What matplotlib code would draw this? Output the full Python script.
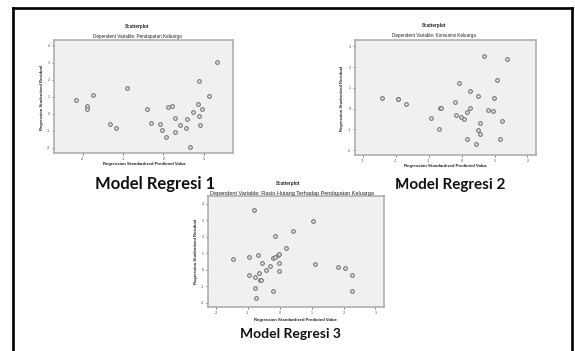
import matplotlib
matplotlib.use("Agg")
import matplotlib.pyplot as plt
from matplotlib.lines import Line2D

plt.rcParams['axes.unicode_minus'] = False
plt.rcParams['font.family'] = ['Liberation Sans', 'DejaVu Sans']

# ---------------- data ----------------
# Model Regresi 1 : Dependent Variable: Pendapatan Keluarga
m1_pred = [-2.17, -1.89, -1.89, -1.75, -1.33, -1.18, -0.90, -0.40, -0.32, -0.08,
           -0.03, 0.06, 0.12, 0.22, 0.29, 0.28, 0.40, 0.55, 0.59, 0.66,
           0.74, 0.85, 0.88, 0.88, 0.92, 0.95, 1.14, 1.32]
m1_resid = [0.78, 0.43, 0.29, 1.10, -0.59, -0.84, 1.51, 0.25, -0.57, -0.59,
            -0.98, -1.37, 0.41, 0.43, -0.24, -1.08, -0.65, -0.86, -0.31, -1.94,
            0.10, 0.55, 1.92, -0.12, -0.67, 0.27, 1.02, 3.02]

# Model Regresi 2 : Dependent Variable: Konsumsi Keluarga
m2_pred = [-2.43, -1.94, -1.94, -1.68, -0.94, -0.69, -0.66, -0.62, -0.20, -0.17,
           -0.09, -0.03, 0.07, 0.15, 0.15, 0.24, 0.24, 0.43, 0.50, 0.50,
           0.57, 0.57, 0.67, 0.81, 0.95, 0.99, 1.06, 1.18, 1.24, 1.39]
m2_resid = [0.50, 0.45, 0.44, 0.24, -0.46, -0.96, 0.05, 0.03, 0.34, -0.32,
            1.25, -0.42, -0.48, -0.18, -1.44, 0.03, 0.85, -1.68, 0.61, -1.03,
            -0.67, -1.23, 2.55, -0.05, -0.10, 0.53, 1.39, -1.44, -0.58, 2.39]

# Model Regresi 3 : Dependent Variable: Rasio Hutang Terhadap Pendapatan Keluarga
m3_pred = [-1.47, -0.96, -0.96, -0.81, -0.77, -0.77, -0.73, -0.68, -0.65, -0.62,
           -0.60, -0.56, -0.43, -0.30, -0.21, -0.21, -0.15, -0.14, -0.05, -0.03,
           -0.03, -0.03, 0.19, 0.42, 1.05, 1.12, 1.82, 2.05, 2.27, 2.27]
m3_resid = [0.68, 0.80, -0.30, 3.62, -0.42, -1.07, -1.73, 0.93, -0.20, -0.62,
            -0.64, 0.42, -0.02, 0.22, 0.74, -1.25, 2.05, 0.80, 0.89, 0.97,
            0.44, -0.06, 1.31, 2.33, 2.94, 0.34, 0.18, 0.14, -0.30, -1.31]

dep_vars = ["Pendapatan Keluarga", "Konsumsi Keluarga",
            "Rasio Hutang Terhadap Pendapatan Keluarga"]
captions = ["Model Regresi 1", "Model Regresi 2", "Model Regresi 3"]
m1_xticks = [-2, -1, 0, 1]
m1_yticks = [-2, -1, 0, 1, 2, 3, 4]
m2_xticks = [-3, -2, -1, 0, 1, 2]
m2_yticks = [-2, -1, 0, 1, 2, 3]
m3_xticks = [-2, -1, 0, 1, 2, 3]
m3_yticks = [-2, -1, 0, 1, 2, 3, 4]

# ---------------- layout ----------------
W, H = 575, 351
fig = plt.figure(figsize=(W / 100, H / 100), dpi=100)
fig.patch.set_facecolor('white')


def px_rect(x0, y0, x1, y1):
    return [x0 / W, 1 - y1 / H, (x1 - x0) / W, (y1 - y0) / H]


def ftext(x, y, s, **kw):
    fig.text(x / W, 1 - y / H, s, ha='center', va='center', **kw)


# page frame
lk = dict(color='black', lw=1.9, solid_capstyle='projecting')
fig.add_artist(Line2D([13.5 / W, 13.5 / W], [0, 1 - 7.5 / H], **lk))
fig.add_artist(Line2D([13.5 / W, 572 / W], [1 - 7.5 / H, 1 - 7.5 / H], **lk))
fig.add_artist(Line2D([572 / W, 572 / W], [0, 1 - 7.5 / H], **lk))
# small cursor mark
fig.add_artist(Line2D([399 / W, 399 / W], [1 - 180 / H, 1 - 187 / H],
                      color='#222222', lw=1.0))

panels = [
    dict(x=m1_pred, y=m1_resid, box=(54, 40, 233, 153.5), xlim=(-2.72, 1.73),
         ylim=(-2.33, 4.32), xt=m1_xticks, yt=m1_yticks,
         t1=(137, 26.5), t2=(137, 36.5), xl=(144, 164.5), yl=(42.5, 97),
         cap=(155, 184.5), capsize=12.0),
    dict(x=m2_pred, y=m2_resid, box=(355, 40, 536, 155), xlim=(-3.24, 2.26),
         ylim=(-2.23, 3.30), xt=m2_xticks, yt=m2_yticks,
         t1=(434, 26), t2=(434, 36), xl=(445, 166), yl=(341.5, 98),
         cap=(450, 184.5), capsize=11.0),
    dict(x=m3_pred, y=m3_resid, box=(208, 196, 384, 307), xlim=(-2.25, 3.27),
         ylim=(-2.25, 4.48), xt=m3_xticks, yt=m3_yticks,
         t1=(288, 183.5), t2=(292, 193), xl=(295, 319.5), yl=(196, 251),
         cap=(290, 334), capsize=10.0),
]

dv_sizes = [3.3, 3.3, 4.0]

for i, p in enumerate(panels):
    ax = fig.add_axes(px_rect(*p['box']))
    ax.set_facecolor('#f0f0f0')
    ax.scatter(p['x'], p['y'], s=7, facecolors='#e4e4e4', edgecolors='#707070',
               linewidths=0.75, zorder=3)
    ax.set_xlim(*p['xlim'])
    ax.set_ylim(*p['ylim'])
    ax.set_xticks(p['xt'])
    ax.set_yticks(p['yt'])
    ax.tick_params(labelsize=2.6, length=1.5, width=0.5, pad=1.2,
                   colors='#444444')
    for sp in ax.spines.values():
        sp.set_color('#a9a9a9')
        sp.set_linewidth(1.1)
    ftext(*p['t1'], "Scatterplot", fontsize=3.3, fontweight='bold', color='#222222')
    ftext(*p['t2'], "Dependent Variable: " + dep_vars[i], fontsize=dv_sizes[i],
          color='#222222')
    ftext(*p['xl'], "Regression Standardized Predicted Value", fontsize=3.1,
          fontweight='bold', color='#222222')
    ftext(*p['yl'], "Regression Studentized Residual", fontsize=3.0,
          fontweight='bold', color='#222222', rotation=90)
    ftext(*p['cap'], captions[i], fontsize=p['capsize'], fontweight='bold',
          color='#111111', family=['Lato', 'DejaVu Sans'])

fig.savefig("out.png", dpi=100, facecolor='white')
